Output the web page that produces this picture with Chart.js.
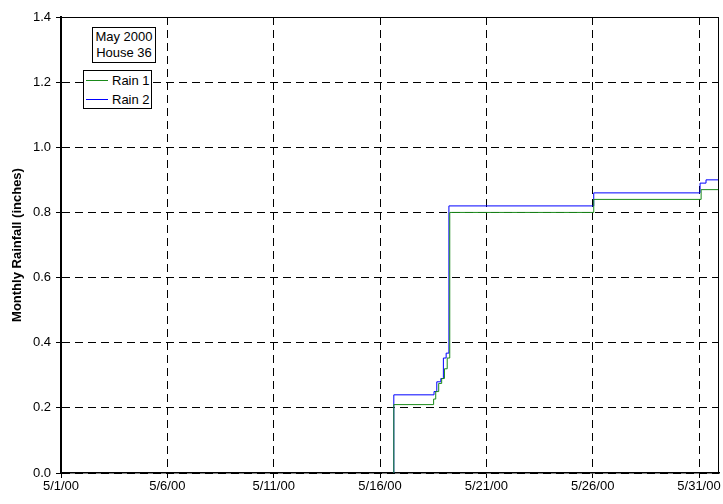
<!DOCTYPE html>
<html>
<head>
<meta charset="utf-8">
<script src="https://cdn.jsdelivr.net/npm/chart.js@4"></script>
<style>
  body { margin: 0; background: #fff; }
  #wrap { position: relative; width: 723px; height: 504px; }
  .note, .legend {
    position: absolute; box-sizing: border-box; background: #fff;
    border: 1px solid #000; font: 13px "Liberation Sans", Arial, sans-serif; color: #000;
  }
  .note { left: 92px; top: 27px; width: 64px; height: 36px; text-align: center; line-height: 16px; padding-top: 1px; }
  .legend { left: 83px; top: 70px; width: 69px; height: 39px; }
  .legend .row { position: absolute; left: 0; height: 19px; line-height: 19px; white-space: nowrap; }
  .legend .label { position: absolute; left: 28px; top: 0; }
  .legend .swatch { position: absolute; left: 2px; width: 22px; height: 1px; }
</style>
</head>
<body>
<div id="wrap">
  <canvas id="myChart" width="723" height="504"></canvas>
  <div class="note">May 2000<br>House 36</div>
  <div class="legend" id="legend"></div>
</div>
<script>
// x values are days after 5/1/00 00:00
const tickDays = [0, 5, 10, 15, 20, 25, 30];
const tickLabels = ['5/1/00', '5/6/00', '5/11/00', '5/16/00', '5/21/00', '5/26/00', '5/31/00'];

const rain1Days = [15.65, 15.65, 17.52, 17.62, 17.76, 17.9, 18.03, 18.16, 18.28, 25.05, 30.1, 30.94];
const rain1 = [0, 0.21, 0.227, 0.25, 0.275, 0.29, 0.32, 0.353, 0.80, 0.84, 0.87, 0.87];

const rain2Days = [15.65, 15.65, 17.54, 17.67, 17.86, 17.98, 18.11, 18.24, 25.05, 30.05, 30.33, 30.94];
const rain2 = [0, 0.24, 0.25, 0.28, 0.29, 0.353, 0.368, 0.82, 0.86, 0.89, 0.90, 0.90];

const seriesNames = ['Rain 1', 'Rain 2'];
const seriesColors = ['#1a8a1a', '#0000ff'];

Chart.defaults.font.family = '"Liberation Sans", Arial, sans-serif';
Chart.defaults.font.size = 13;
Chart.defaults.color = '#000';

function toPoints(xs, ys) {
  return xs.map(function (x, i) { return { x: x, y: ys[i] }; });
}

const framePlugin = {
  id: 'frame',
  afterDraw: function (chart) {
    const a = chart.chartArea;
    const ctx = chart.ctx;
    ctx.save();
    ctx.strokeStyle = '#000';
    ctx.lineWidth = 1;
    ctx.beginPath();
    ctx.moveTo(a.left, a.top + 0.5);
    ctx.lineTo(a.right - 0.5, a.top + 0.5);
    ctx.lineTo(a.right - 0.5, a.bottom);
    ctx.stroke();
    ctx.restore();
  }
};

const ctx = document.getElementById('myChart').getContext('2d');
const myChart = new Chart(ctx, {
  type: 'line',
  data: {
    datasets: [{
      label: seriesNames[0],
      data: toPoints(rain1Days, rain1),
      borderColor: seriesColors[0],
      borderWidth: 1,
      pointRadius: 0,
      stepped: true,
      fill: false
    }, {
      label: seriesNames[1],
      data: toPoints(rain2Days, rain2),
      borderColor: seriesColors[1],
      borderWidth: 1,
      pointRadius: 0,
      stepped: true,
      fill: false
    }]
  },
  options: {
    responsive: false,
    animation: false,
    layout: { padding: { top: 17, right: 4, left: 0, bottom: 0 } },
    plugins: { legend: { display: false }, tooltip: { enabled: false } },
    scales: {
      x: {
        type: 'linear',
        min: 0,
        max: 30.94,
        afterBuildTicks: function (scale) {
          scale.ticks = tickDays.map(function (v) { return { value: v }; });
        },
        afterFit: function (scale) { scale.height = 31; },
        ticks: {
          padding: 1,
          maxRotation: 0,
          autoSkip: false,
          callback: function (value) {
            const i = tickDays.indexOf(value);
            return i >= 0 ? tickLabels[i] : '';
          }
        },
        grid: { color: '#000', lineWidth: 1, tickLength: 5, tickColor: '#000' },
        border: { color: '#000', width: 1.5, dash: [8, 5] }
      },
      y: {
        min: 0,
        max: 1.4,
        afterFit: function (scale) { scale.width = 61; },
        ticks: {
          stepSize: 0.2,
          padding: 5,
          callback: function (value) { return value.toFixed(1); }
        },
        title: {
          display: true,
          text: 'Monthly Rainfall (inches)',
          font: { size: 13, weight: 'bold' },
          padding: { top: 10, bottom: 0 }
        },
        grid: { color: '#000', lineWidth: 1, tickLength: 5, tickColor: '#000' },
        border: { color: '#000', width: 2, dash: [8, 5] }
      }
    }
  },
  plugins: [framePlugin]
});

// legend built from the dataset names
const legend = document.getElementById('legend');
seriesNames.forEach(function (name, i) {
  const row = document.createElement('div');
  row.className = 'row';
  row.style.top = (i * 19) + 'px';
  const sw = document.createElement('div');
  sw.className = 'swatch';
  sw.style.top = '9px';
  sw.style.background = seriesColors[i];
  const lab = document.createElement('span');
  lab.className = 'label';
  lab.textContent = name;
  row.appendChild(sw);
  row.appendChild(lab);
  legend.appendChild(row);
});
</script>
</body>
</html>
